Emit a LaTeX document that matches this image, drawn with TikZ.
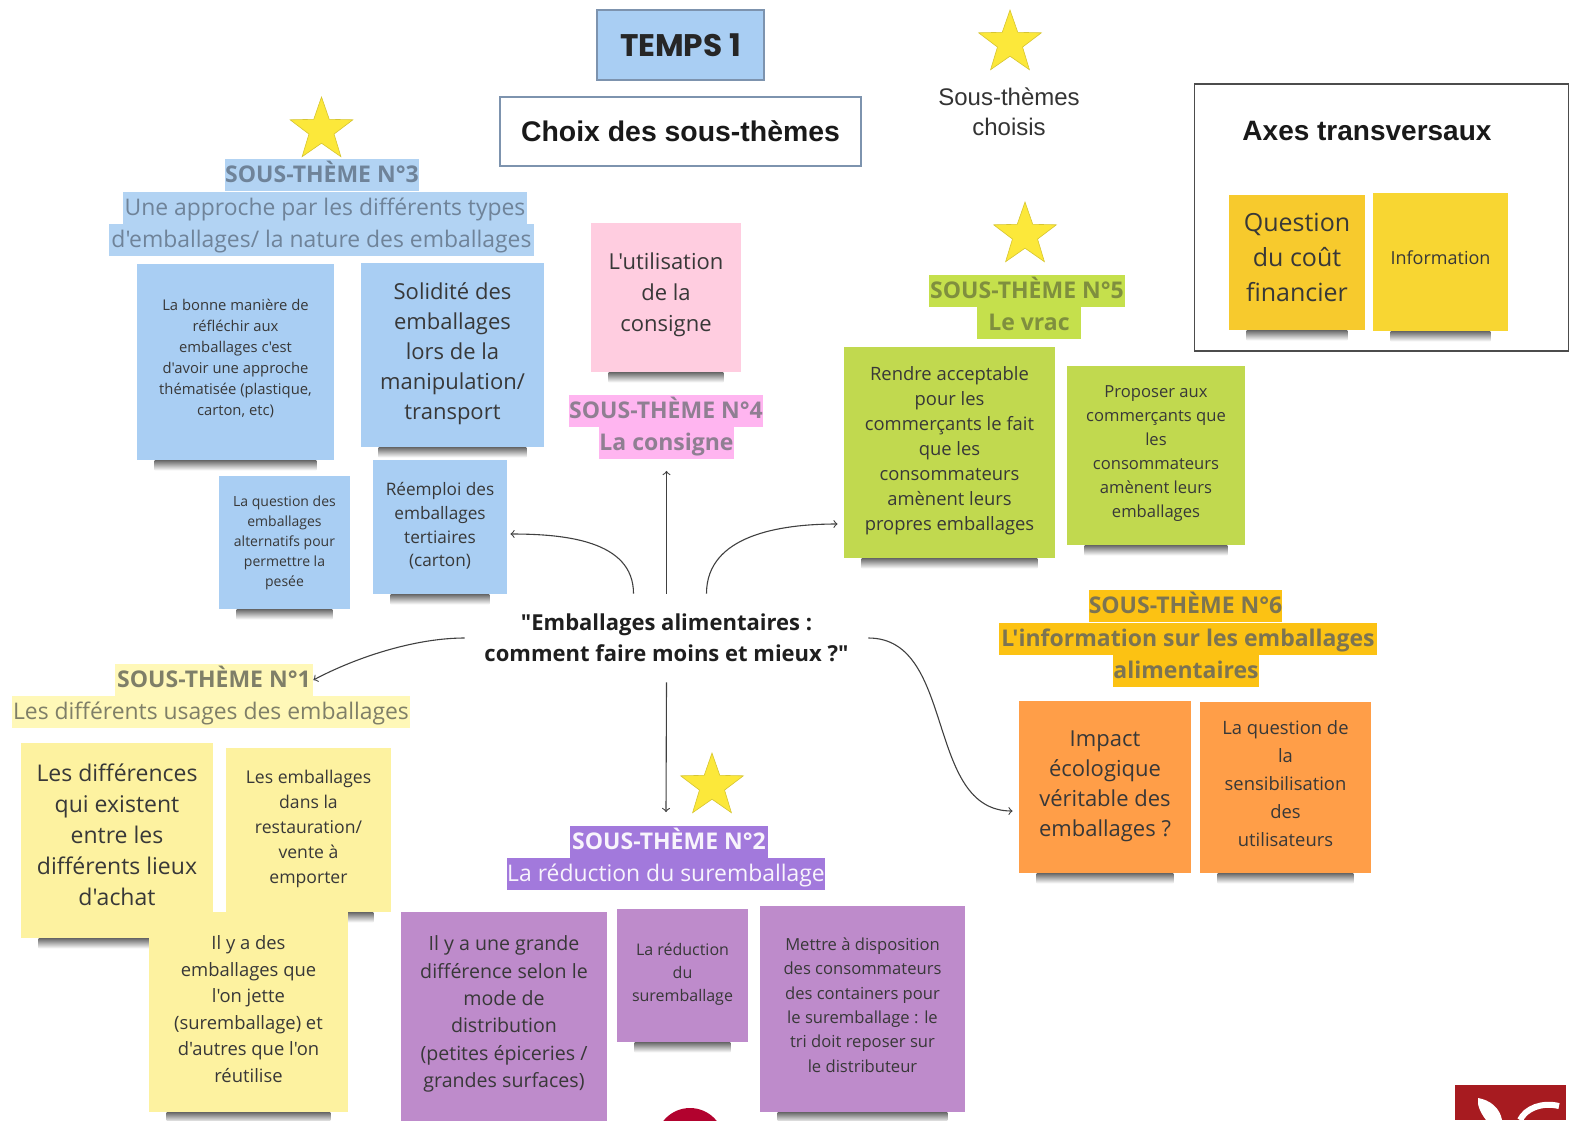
\documentclass[tikz,border=0pt]{standalone}
\usepackage{fontspec}
\setmainfont{Open Sans}[Ligatures=TeXOff]
\newfontfamily\headfont{Liberation Sans}
\newfontfamily\tempsfont{Poppins}
\usetikzlibrary{shapes.geometric,backgrounds}

\definecolor{noteblue}{HTML}{A9CEF3}
\definecolor{notepink}{HTML}{FFCDE0}
\definecolor{notegreen}{HTML}{C1D94F}
\definecolor{notegold}{HTML}{F8D632}
\definecolor{notegolddark}{HTML}{F7CA2D}
\definecolor{noteorange}{HTML}{FF9E48}
\definecolor{noteyellow}{HTML}{FDF2A0}
\definecolor{notepurple}{HTML}{BE8BCB}
\definecolor{bandblue}{HTML}{B2D3F3}
\definecolor{bandpink}{HTML}{FFB5F0}
\definecolor{bandgreen}{HTML}{C5E04C}
\definecolor{bandgold}{HTML}{FCC213}
\definecolor{bandyellow}{HTML}{FFF8B8}
\definecolor{bandpurple}{HTML}{A279DC}
\definecolor{inkblue}{HTML}{6F8399}
\definecolor{inkpink}{HTML}{8F7F92}
\definecolor{inkgreen}{HTML}{7F8F3E}
\definecolor{inkgold}{HTML}{7C7452}
\definecolor{inkyellow}{HTML}{7F7F68}
\definecolor{framegrey}{HTML}{7D93AE}
\definecolor{starfill}{HTML}{FCE83A}
\definecolor{logored}{HTML}{A71B20}
\definecolor{discred}{HTML}{B2022E}

\tikzset{
  note/.style={fill=#1, inner sep=0pt, align=center, text=black!78},
  lift/.style={text depth=\dp\pgfnodeparttextbox+2*#1},
  band/.style 2 args={fill=#1, text=#2, inner xsep=0pt, inner ysep=0pt,
    minimum height=16pt, text height=11.2pt, text depth=3.6pt},
  frame/.style={draw=framegrey, line width=.8pt, inner sep=0pt},
  prize/.style={star, star points=5, star point ratio=2.5, fill=starfill,
    draw=starfill!85!black, line width=.3pt, inner sep=0pt, minimum size=33pt},
  arrow/.style={->, draw=black!75, line width=.55pt},
}

\begin{document}
\begin{tikzpicture}[x=.5pt, y=-.5pt]
  \useasboundingbox (0,0) rectangle (1569,1120);
  \clip (0,0) rectangle (1569,1120);

  % header
  \node (temps) [frame, fill=noteblue, minimum width=83.5pt, minimum height=35pt]
    at (680.5,45) {\tempsfont\bfseries\fontsize{15.6}{15.6}\selectfont\textcolor{black!85}{TEMPS 1}};
  \node (choix) [frame, fill=white, minimum width=180.5pt, minimum height=34.5pt]
    at (680.5,131.5) {\headfont\bfseries\fontsize{14.2}{14.2}\selectfont\textcolor{black!90}{Choix des sous-thèmes}};
  \node (chosen) [prize] at (1010,43) {};
  \node (chosenlabel) [align=center, inner sep=0pt, text=black!80, font=\headfont\fontsize{12}{15}\selectfont]
    at (1009,112) {Sous-thèmes\\choisis};

  % axes transversaux
  \node (axes) [draw=black!70, line width=.6pt, minimum width=187pt, minimum height=133.5pt, inner sep=0pt]
    at (1381.5,217.5) {};
  \node (axestitle) [inner sep=0pt, text=black!90, font=\headfont\bfseries\fontsize{14}{14}\selectfont]
    at (1367,131) {Axes transversaux};
  \node (cout) [note=notegolddark, lift=2.5pt, minimum width=68pt, minimum height=67.5pt,
    font=\fontsize{12.5}{17.5}\selectfont] at (1297,262.5) {Question\\du coût\\financier};
  \node (information) [note=notegold, lift=2pt, minimum width=67.5pt, minimum height=69pt,
    font=\fontsize{9}{12}\selectfont] at (1440.5,262) {Information};

  % sous-theme 3
  \node (star3) [prize] at (321.5,130) {};
  \node (sub3a) [band={bandblue}{inkblue}, minimum width=96pt, font=\bfseries\fontsize{11.5}{14}\selectfont]
    at (322,175) {SOUS-THÈME N°3};
  \node (sub3b) [band={bandblue}{inkblue}, minimum width=202pt, font=\fontsize{11.45}{14}\selectfont]
    at (325,208) {Une approche par les différents types};
  \node (sub3c) [band={bandblue}{inkblue}, minimum width=212.5pt, font=\fontsize{11.45}{14}\selectfont]
    at (321.5,240) {d'emballages/ la nature des emballages};
  \node (approche) [note=noteblue, lift=1.8pt, minimum width=98.5pt, minimum height=98pt, font=\fontsize{7.4}{10.5}\selectfont]
    at (235.5,362) {La bonne manière de\\réfléchir aux\\emballages c'est\\d'avoir une approche\\thématisée (plastique,\\carton, etc)};
  \node (solidite) [note=noteblue, lift=.7pt, minimum width=91.5pt, minimum height=92pt, font=\fontsize{11}{15}\selectfont]
    at (452.5,355) {Solidité des\\emballages\\lors de la\\manipulation/\\transport};
  \node (pesee) [note=noteblue, minimum width=65.5pt, minimum height=66.5pt, font=\fontsize{7}{10}\selectfont]
    at (284.5,542.5) {La question des\\emballages\\alternatifs pour\\permettre la\\pesée};
  \node (reemploi) [note=noteblue, lift=.5pt, minimum width=67pt, minimum height=67pt, font=\fontsize{8.6}{11.8}\selectfont]
    at (440,527) {Réemploi des\\emballages\\tertiaires\\(carton)};

  % sous-theme 4
  \node (utilisation) [note=notepink, lift=1.2pt, minimum width=75pt, minimum height=74.5pt, font=\fontsize{11}{15.5}\selectfont]
    at (666,297.5) {L'utilisation\\de la\\consigne};
  \node (sub4a) [band={bandpink}{inkpink}, minimum width=96pt, font=\bfseries\fontsize{11.5}{14}\selectfont]
    at (666,411) {SOUS-THÈME N°4};
  \node (sub4b) [band={bandpink}{inkpink}, minimum width=66.5pt, font=\bfseries\fontsize{11.5}{14}\selectfont]
    at (666.5,442.5) {La consigne};

  % sous-theme 5
  \node (star5) [prize] at (1025,235) {};
  \node (sub5a) [band={bandgreen}{inkgreen}, minimum width=98pt, font=\bfseries\fontsize{11.5}{14}\selectfont]
    at (1027,291) {SOUS-THÈME N°5};
  \node (sub5b) [band={bandgreen}{inkgreen}, minimum width=52pt, font=\bfseries\fontsize{11.5}{14}\selectfont]
    at (1029,322.5) {Le vrac};
  \node (rendre) [note=notegreen, lift=1pt, minimum width=105.5pt, minimum height=105.5pt, font=\fontsize{9.2}{12.5}\selectfont]
    at (949.5,452.5) {Rendre acceptable\\pour les\\commerçants le fait\\que les\\consommateurs\\amènent leurs\\propres emballages};
  \node (proposer) [note=notegreen, lift=.8pt, minimum width=89pt, minimum height=89.5pt, font=\fontsize{8.3}{12}\selectfont]
    at (1156,455.5) {Proposer aux\\commerçants que\\les\\consommateurs\\amènent leurs\\emballages};

  % sous-theme 6
  \node (sub6a) [band={bandgold}{inkgold}, minimum width=95.5pt, font=\bfseries\fontsize{11.5}{14}\selectfont]
    at (1185.5,605.5) {SOUS-THÈME N°6};
  \node (sub6b) [band={bandgold}{inkgold}, minimum width=189pt, font=\bfseries\fontsize{11.5}{14}\selectfont]
    at (1188,638.5) {L'information sur les emballages};
  \node (sub6c) [band={bandgold}{inkgold}, minimum width=71pt, font=\bfseries\fontsize{11.5}{14}\selectfont]
    at (1186,671) {alimentaires};
  \node (impact) [note=noteorange, lift=.5pt, minimum width=86pt, minimum height=86pt, font=\fontsize{11}{15}\selectfont]
    at (1105,787) {Impact\\écologique\\véritable des\\emballages ?};
  \node (sensibilisation) [note=noteorange, lift=2pt, minimum width=85.5pt, minimum height=85.5pt, font=\fontsize{9.2}{13.9}\selectfont]
    at (1285.5,787.5) {La question de\\la\\sensibilisation\\des\\utilisateurs};

  % sous-theme 1
  \node (sub1a) [band={bandyellow}{inkyellow}, minimum width=99pt, font=\bfseries\fontsize{11.5}{14}\selectfont]
    at (214,680) {SOUS-THÈME N°1};
  \node (sub1b) [band={bandyellow}{inkyellow}, minimum width=199pt, font=\fontsize{11.45}{14}\selectfont]
    at (211,712) {Les différents usages des emballages};
  \node (lieux) [note=noteyellow, lift=3pt, minimum width=96pt, minimum height=97.5pt, font=\fontsize{11.5}{15.5}\selectfont]
    at (117,840.5) {Les différences\\qui existent\\entre les\\différents lieux\\d'achat};
  \node (restauration) [note=noteyellow, lift=.5pt, minimum width=82.5pt, minimum height=82pt, font=\fontsize{8.8}{12.4}\selectfont]
    at (308.5,830) {Les emballages\\dans la\\restauration/\\vente à\\emporter};
  \node (jette) [note=noteyellow, lift=1.5pt, minimum width=99.5pt, minimum height=100pt, font=\fontsize{9.2}{13.3}\selectfont]
    at (248.5,1012) {Il y a des\\emballages que\\l'on jette\\(suremballage) et\\d'autres que l'on\\réutilise};

  % sous-theme 2
  \node (star2) [prize] at (712,786) {};
  \node (sub2a) [band={bandpurple}{white!92!bandpurple}, minimum width=99pt, font=\bfseries\fontsize{11.5}{14}\selectfont]
    at (669,841.5) {SOUS-THÈME N°2};
  \node (sub2b) [band={bandpurple}{white!92!bandpurple}, minimum width=159pt, font=\fontsize{11.45}{14}\selectfont]
    at (666,874) {La réduction du suremballage};
  \node (distribution) [note=notepurple, lift=3pt, minimum width=103pt, minimum height=108pt, font=\fontsize{9.8}{13.7}\selectfont]
    at (504,1020) {Il y a une grande\\différence selon le\\mode de\\distribution\\(petites épiceries /\\grandes surfaces)};
  \node (reduction) [note=notepurple, lift=.7pt, minimum width=65.5pt, minimum height=66.5pt, font=\fontsize{8}{11.6}\selectfont]
    at (682.5,975.5) {La réduction\\du\\suremballage};
  \node (containers) [note=notepurple, lift=2pt, minimum width=102.5pt, minimum height=103pt, font=\fontsize{8.3}{12.2}\selectfont]
    at (862.5,1009) {Mettre à disposition\\des consommateurs\\des containers pour\\le suremballage : le\\tri doit reposer sur\\le distributeur};

  % shadows of the notes
  \begin{scope}[on background layer]
    \foreach \n in {cout, information, approche, solidite, pesee, reemploi, utilisation,
      rendre, proposer, impact, sensibilisation, lieux, restauration, jette, reduction, containers}
      \shade [top color=black!58, bottom color=white]
        ([xshift=9pt]\n.south west) rectangle ([xshift=-9pt, yshift=-5pt]\n.south east);
  \end{scope}

  % centre and connectors
  \node (question) [inner sep=0pt, minimum width=201.5pt, minimum height=44pt, align=center,
    text=black!88, font=\bfseries\fontsize{11}{15.5}\selectfont]
    at (666.5,638) {"Emballages alimentaires :\\comment faire moins et mieux ?"};

  \draw [arrow, shorten >=6pt] (question.north) to (sub4b);
  \draw [arrow] (question.south) to ([xshift=-1.5pt, yshift=6.5pt]sub2a.north);
  \draw [arrow] ([xshift=-16.5pt]question.north) to [out=90, in=0] ([xshift=1.5pt, yshift=-3.5pt]reemploi.east);
  \draw [arrow] ([xshift=20pt]question.north) to [out=90, in=180] ([xshift=-3pt, yshift=-35.75pt]rendre.west);
  \draw [arrow] (question.west) to [out=180, in=28, looseness=.8] (sub1a.east);
  \draw [arrow] (question.east) to [out=0, in=180] ([xshift=-3pt, yshift=-12pt]impact.west);

  % cut-off marks at the lower edge
  \fill [discred] (690,1142) circle (34);
  \fill [logored] (1455,1085) rectangle (1569,1120);
  \fill [white] (1478,1098) .. controls (1490,1100) and (1500,1108) .. (1502,1120)
    -- (1486,1120) .. controls (1480,1112) and (1477,1105) .. (1478,1098) -- cycle;
  \draw [white, line width=3pt] (1520,1120) .. controls (1526,1108) and (1542,1102) .. (1559,1106);
  \fill [white] (1566,1085) rectangle (1569,1120);
\end{tikzpicture}
\end{document}
